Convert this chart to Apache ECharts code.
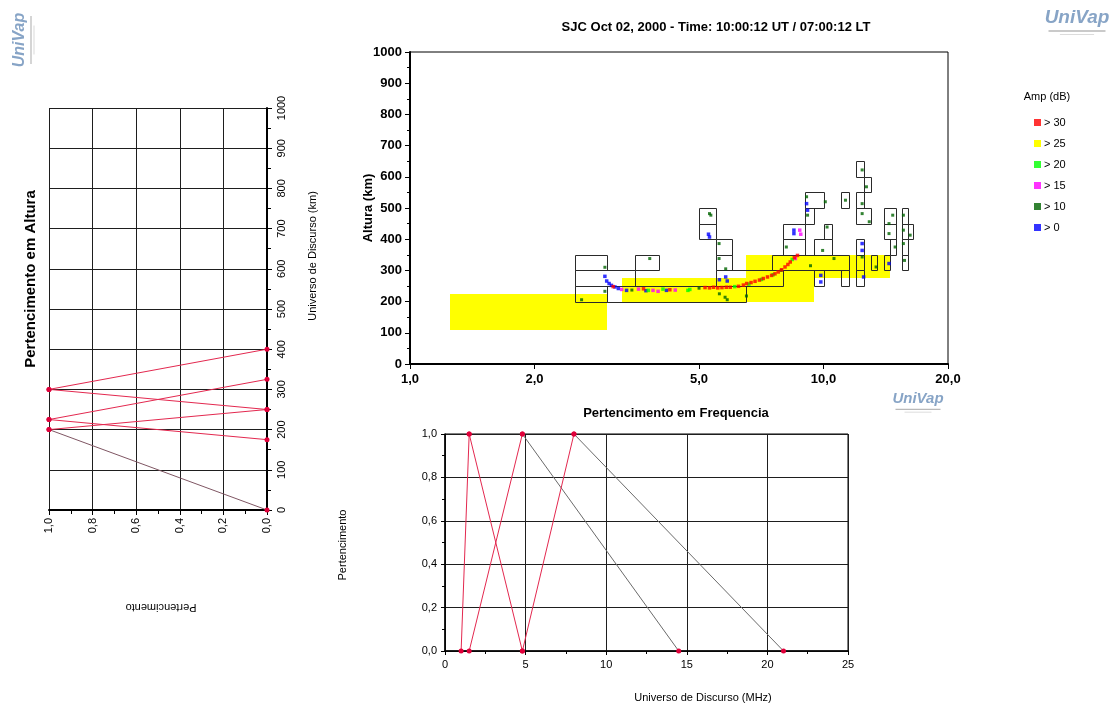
<!DOCTYPE html>
<html>
<head>
<meta charset="utf-8">
<script src="https://cdn.jsdelivr.net/npm/echarts@6/dist/echarts.min.js"></script>
<style>
  html, body { margin: 0; padding: 0; background: #fff; }
  #chart { width: 1119px; height: 709px; }
</style>
</head>
<body>
<div id="chart"></div>
<script>
// ---- Ionogram: SJC Oct 02, 2000 ----
const chartTitle = 'SJC Oct 02, 2000 - Time: 10:00:12 UT / 07:00:12 LT';

// Frequency ticks of the ionogram (MHz, log scale)
const freqTicks = [1, 2, 5, 10, 20];

// Regions with amplitude above 25 dB: [fStart, fEnd, hBottom, hTop]
const yellowRegions = [
  [1.25, 3.0, 110, 225],
  [3.25, 6.5, 200, 275],
  [6.5, 9.5, 200, 350],
  [9.5, 14.5, 275, 350]
];

// Echo cells: [fStart, fEnd, hBottom, hTop]
const echoCells = [
  [2.5, 3.0, 300, 350], [2.5, 3.5, 250, 300], [2.5, 3.0, 200, 250], [3.0, 6.5, 200, 250],
  [3.5, 4.0, 300, 350],
  [5.0, 5.5, 450, 500], [5.0, 5.5, 400, 450], [5.5, 6.0, 350, 400], [5.5, 6.0, 300, 350],
  [5.5, 8.0, 250, 300],
  [8.0, 9.0, 400, 450], [8.0, 9.0, 350, 400],
  [9.0, 10.0, 500, 550], [9.0, 9.5, 450, 500],
  [7.5, 11.5, 300, 350], [9.5, 10.5, 350, 400], [10.0, 10.5, 400, 450],
  [9.5, 10.0, 250, 300], [11.0, 11.5, 250, 300], [11.0, 11.5, 500, 550],
  [12.0, 12.5, 600, 650], [12.5, 13.0, 550, 600], [12.0, 12.5, 500, 550], [12.0, 13.0, 450, 500],
  [12.0, 12.5, 350, 400], [12.0, 12.5, 300, 350], [12.0, 12.5, 250, 300],
  [13.0, 13.5, 300, 350],
  [14.0, 15.0, 450, 500], [14.0, 15.0, 400, 450], [14.5, 15.0, 350, 400], [14.0, 14.5, 300, 350],
  [15.5, 16.0, 450, 500], [15.5, 16.0, 400, 450], [15.5, 16.0, 350, 400], [15.5, 16.0, 300, 350],
  [16.0, 16.5, 400, 450]
];

// Echoes by amplitude class: [frequency MHz, virtual height km]
const ampOver30 = [
  [3.1, 248], [3.67, 241], [4.25, 238],
  [5.17, 245], [5.3, 244], [5.42, 246], [5.55, 244], [5.68, 245], [5.82, 246], [5.95, 246],
  [6.23, 249], [6.4, 253], [6.52, 258], [6.68, 261], [6.83, 265], [7.0, 269], [7.15, 274],
  [7.32, 279], [7.49, 284], [7.63, 289], [7.77, 295], [7.92, 302], [8.07, 311], [8.2, 319],
  [8.31, 327], [8.5, 341], [8.65, 348]
];
const ampOver20 = [
  [3.77, 236], [4.09, 240], [4.7, 236], [4.75, 239], [6.1, 248], [6.6, 256], [7.08, 271],
  [7.55, 286], [8.4, 335]
];
const ampOver15 = [
  [3.25, 239], [3.57, 240], [3.87, 236], [3.98, 233], [4.38, 237], [8.55, 338], [8.76, 429],
  [8.81, 416]
];
const ampOver10 = [
  [2.6, 206], [2.96, 310], [2.96, 233], [3.44, 237], [3.8, 338], [5.0, 243], [5.3, 482], [5.34, 477],
  [5.59, 386], [5.59, 338], [5.8, 305], [5.6, 225], [5.78, 214], [5.85, 206], [6.51, 218],
  [7.9, 300], [8.13, 375], [9.1, 536], [9.15, 477], [10.1, 520], [9.3, 315], [9.95, 364],
  [10.2, 439], [10.6, 338], [11.3, 525], [12.4, 622], [12.7, 568], [12.4, 514], [12.4, 482],
  [12.9, 456], [12.4, 343], [13.4, 311], [14.4, 450], [14.4, 418], [14.7, 477], [14.9, 375],
  [15.6, 477], [15.6, 429], [15.6, 386], [15.7, 332], [16.2, 413]
];
const ampOver0 = [
  [2.96, 281], [2.99, 266], [3.03, 258], [3.07, 252], [3.13, 247], [3.19, 242], [3.34, 236],
  [3.72, 235], [4.17, 236], [5.27, 416], [5.3, 407], [5.6, 270], [5.8, 279], [5.85, 266],
  [8.48, 429], [8.48, 418], [9.1, 514], [9.15, 493], [9.85, 284], [9.85, 263], [12.4, 386],
  [12.4, 364], [12.5, 279], [14.4, 322]
];

// Triangular membership sets: [start, peak, end]
const heightSets = [[0, 200, 250], [175, 225, 325], [250, 300, 400]];   // km
const freqSets = [[1.0, 1.5, 4.8], [1.5, 4.8, 14.5], [4.8, 8.0, 21.0]]; // MHz

// Amplitude classes in the legend
const ampClasses = ['> 30', '> 25', '> 20', '> 15', '> 10', '> 0'];

// ---- styling ----
const FONT = '"Liberation Sans", Arial, sans-serif';
const RED = '#e3284f';
const DOT = '#e0003a';
const DARK = '#7f5663';
const GREY = '#6a6a6a';
const ampColors = { '> 30': '#ff0000', '> 25': '#ffff00', '> 20': '#00ff00', '> 15': '#ff00ff', '> 10': '#006400', '> 0': '#0000ff' };
// colour of [rising, falling] edge of every set
const heightEdgeColors = [[DARK, RED], [RED, RED], [RED, RED]];
const freqEdgeColors = [[RED, RED], [RED, GREY], [RED, GREY]];

const comma = v => v.toFixed(1).replace('.', ',');
const plain = v => String(v);

const chart = echarts.init(document.getElementById('chart'), null, { renderer: 'canvas' });

function cellRenderer(fill, stroke) {
  return function (params, api) {
    const a = api.coord([api.value(0), api.value(3)]);
    const b = api.coord([api.value(1), api.value(2)]);
    const off = stroke ? 0.5 : 0;
    const x0 = Math.round(a[0]) + off, y0 = Math.round(a[1]) + off;
    const x1 = Math.round(b[0]) + off, y1 = Math.round(b[1]) + off;
    return {
      type: 'rect',
      shape: { x: x0, y: y0, width: x1 - x0, height: y1 - y0 },
      style: { fill: fill || 'none', stroke: stroke || null, lineWidth: 1 }
    };
  };
}

const series = [];

// membership triangles, one line per edge
function addEdges(sets, colors, xIdx, asHeight) {
  sets.forEach((s, i) => {
    const [a, b, c] = s;
    const rise = asHeight ? [[0, a], [1, b]] : [[a, 0], [b, 1]];
    const fall = asHeight ? [[1, b], [0, c]] : [[b, 1], [c, 0]];
    [rise, fall].forEach((edge, k) => {
      series.push({
        type: 'line', xAxisIndex: xIdx, yAxisIndex: xIdx, data: edge,
        symbol: 'circle', symbolSize: 5, showSymbol: true,
        lineStyle: { color: colors[i][k], width: 1 },
        itemStyle: { color: DOT },
        z: 5, silent: true, animation: false
      });
    });
  });
}
addEdges(heightSets, heightEdgeColors, 0, true);
addEdges(freqSets, freqEdgeColors, 2, false);

series.push({
  name: '> 25', type: 'custom', xAxisIndex: 1, yAxisIndex: 1,
  renderItem: cellRenderer('#ffff00', null),
  encode: { x: [0, 1], y: [2, 3] },
  data: yellowRegions, itemStyle: { color: ampColors['> 25'] }, z: 1, silent: true
});
series.push({
  type: 'custom', xAxisIndex: 1, yAxisIndex: 1,
  renderItem: cellRenderer(null, '#2a2a2a'),
  encode: { x: [0, 1], y: [2, 3] },
  data: echoCells, z: 2, silent: true
});

const ampData = { '> 30': ampOver30, '> 20': ampOver20, '> 15': ampOver15, '> 10': ampOver10, '> 0': ampOver0 };
['> 10', '> 0', '> 15', '> 20', '> 30'].forEach(name => {
  series.push({
    name, type: 'scatter', xAxisIndex: 1, yAxisIndex: 1,
    data: ampData[name], symbol: 'rect', symbolSize: name === '> 10' ? 3 : 3.5,
    itemStyle: { color: ampColors[name] }, z: 3, silent: true
  });
});

const blackAxis = w => ({ show: true, lineStyle: { color: '#000', width: w } });
const gridLine = { show: true, lineStyle: { color: '#1e1e1e', width: 1 } };

function txt(text, x, y, size, weight, rotation, color) {
  return {
    type: 'text', x, y, rotation: rotation || 0, silent: true,
    style: {
      text, fontFamily: FONT, fontSize: size, fontWeight: weight || 'normal', fill: color || '#000',
      align: 'center', verticalAlign: 'middle', textAlign: 'center', textVerticalAlign: 'middle'
    }
  };
}
function logo(x, y, scale, rotation) {
  return {
    type: 'group', x, y, rotation: rotation || 0, scaleX: scale, scaleY: scale, silent: true,
    children: [
      { type: 'text', x: 0, y: 0, style: { text: 'UniVap', fontFamily: FONT, fontSize: 20, fontWeight: 'bold', fontStyle: 'italic', fill: '#5f86b3', opacity: 0.75, align: 'center', verticalAlign: 'middle', textAlign: 'center', textVerticalAlign: 'middle' } },
      { type: 'rect', shape: { x: -30, y: 13, width: 60, height: 1.5 }, style: { fill: '#b9b9b9' } },
      { type: 'rect', shape: { x: -18, y: 17, width: 36, height: 1 }, style: { fill: '#d0d0d0' } }
    ]
  };
}

chart.setOption({
  animation: false,
  backgroundColor: '#fff',
  textStyle: { fontFamily: FONT },
  grid: [
    { left: 49, top: 108, width: 218, height: 402, containLabel: false, outerBoundsMode: 'none' },
    { left: 410, top: 52, width: 538, height: 312, containLabel: false, outerBoundsMode: 'none', show: true, borderColor: '#000', borderWidth: 1 },
    { left: 445, top: 434, width: 403, height: 217, containLabel: false, outerBoundsMode: 'none', show: true, borderColor: '#000', borderWidth: 1 }
  ],
  xAxis: [
    {
      gridIndex: 0, type: 'value', min: 0, max: 1, interval: 0.2, inverse: true, position: 'bottom',
      axisLine: blackAxis(2), axisTick: { show: true, length: 5, lineStyle: { color: '#000' } },
      minorTick: { show: true, splitNumber: 2, length: 4, lineStyle: { color: '#000' } },
      axisLabel: { formatter: comma, rotate: 90, fontSize: 11, color: '#000', margin: 8, showMinLabel: true, showMaxLabel: true },
      splitLine: gridLine
    },
    {
      gridIndex: 1, type: 'log', logBase: 10, min: 1, max: 20,
      axisLine: blackAxis(2),
      axisTick: { show: true, length: 5, customValues: freqTicks, lineStyle: { color: '#000' } },
      axisLabel: { customValues: freqTicks, formatter: comma, fontSize: 13, fontWeight: 'bold', color: '#000', margin: 9, showMinLabel: true, showMaxLabel: true },
      splitLine: { show: false }, minorTick: { show: false }, minorSplitLine: { show: false }
    },
    {
      gridIndex: 2, type: 'value', min: 0, max: 25, interval: 5,
      axisLine: blackAxis(1.5), axisTick: { show: true, length: 4, lineStyle: { color: '#000' } },
      minorTick: { show: true, splitNumber: 2, length: 3, lineStyle: { color: '#000' } },
      axisLabel: { fontSize: 11, color: '#000', margin: 8, showMinLabel: true, showMaxLabel: true },
      splitLine: gridLine
    }
  ],
  yAxis: [
    {
      gridIndex: 0, type: 'value', min: 0, max: 1000, interval: 100, position: 'right',
      axisLine: blackAxis(2), axisTick: { show: true, length: 5, lineStyle: { color: '#000' } },
      minorTick: { show: true, splitNumber: 2, length: 4, lineStyle: { color: '#000' } },
      axisLabel: { formatter: plain, rotate: 90, fontSize: 11, color: '#000', margin: 9, showMinLabel: true, showMaxLabel: true },
      splitLine: gridLine
    },
    {
      gridIndex: 1, type: 'value', min: 0, max: 1000, interval: 100,
      axisLine: blackAxis(2), axisTick: { show: true, length: 5, lineStyle: { color: '#000' } },
      minorTick: { show: true, splitNumber: 2, length: 3, lineStyle: { color: '#000' } },
      axisLabel: { formatter: plain, fontSize: 13, fontWeight: 'bold', color: '#000', margin: 8, showMinLabel: true, showMaxLabel: true },
      splitLine: { show: false }
    },
    {
      gridIndex: 2, type: 'value', min: 0, max: 1, interval: 0.2,
      axisLine: blackAxis(1.5), axisTick: { show: true, length: 4, lineStyle: { color: '#000' } },
      minorTick: { show: true, splitNumber: 2, length: 3, lineStyle: { color: '#000' } },
      axisLabel: { formatter: comma, fontSize: 11, color: '#000', margin: 8, showMinLabel: true, showMaxLabel: true },
      splitLine: gridLine
    }
  ],
  legend: {
    data: ampClasses, orient: 'vertical', left: 1029, top: 112,
    icon: 'rect', itemWidth: 7, itemHeight: 7, itemGap: 10,
    textStyle: { fontFamily: FONT, fontSize: 11, color: '#000', padding: [0, 0, 0, -2] },
    selectedMode: false, inactiveColor: '#ccc'
  },
  graphic: [
    txt(chartTitle, 716, 27, 13, 'bold'),
    txt('Altura (km)', 368, 208, 13, 'bold', Math.PI / 2),
    txt('Amp (dB)', 1047, 97, 11),
    txt('Pertencimento em Altura', 31, 279, 15, 'bold', Math.PI / 2),
    txt('Universo de Discurso (km)', 313, 256, 11, 'normal', Math.PI / 2),
    txt('Pertencimento', 161, 607, 11, 'normal', Math.PI),
    txt('Pertencimento em Frequencia', 676, 413, 13, 'bold'),
    txt('Pertencimento', 343, 545, 11, 'normal', Math.PI / 2),
    txt('Universo de Discurso (MHz)', 703, 698, 11),
    logo(1077, 18, 0.95, 0),
    logo(918, 399, 0.75, 0),
    logo(20, 40, 0.8, Math.PI / 2)
  ],
  series
});
</script>
</body>
</html>
